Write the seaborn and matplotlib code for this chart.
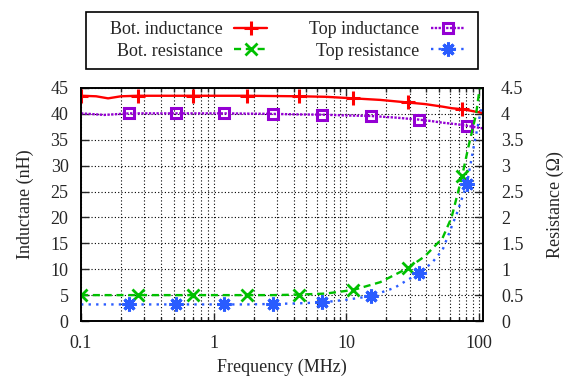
import matplotlib
matplotlib.use("Agg")
import matplotlib.pyplot as plt
import seaborn as sns
from matplotlib.patches import Rectangle
from matplotlib.ticker import LogLocator, FuncFormatter, NullFormatter

# ---- data ----
bot_freq = [0.1, 0.13, 0.16, 0.2, 0.27, 0.43, 0.7, 1.1, 1.77, 2.8, 4.4, 7, 11.3,
            18, 29, 39, 53, 62, 74.5, 83, 95, 101, 107]
bot_inductance = [43.5, 43.4, 43.0, 43.4, 43.5, 43.5, 43.5, 43.5, 43.5, 43.45, 43.4,
                  43.3, 43.0, 42.7, 42.2, 41.9, 41.4, 41.1, 40.9, 40.7, 40.4, 40.3, 40.1]
bot_resistance = [0.5, 0.5, 0.5, 0.5, 0.5, 0.5, 0.5, 0.5, 0.5, 0.5, 0.51, 0.53, 0.6,
                  0.75, 1.02, 1.25, 1.6, 2.0, 2.8, 3.36, 4.0, 4.5, 5.0]
bot_marker_freq = [0.1, 0.27, 0.7, 1.77, 4.4, 11.3, 29, 74.5]

top_freq = [0.1, 0.15, 0.23, 0.35, 0.52, 0.8, 1.19, 1.8, 2.8, 4.3, 6.6, 10, 15.2,
            23, 35, 44, 53, 68, 81, 91, 101, 107]
top_inductance = [40.1, 39.8, 40.1, 40.1, 40.1, 40.1, 40.1, 40.05, 40.0, 39.9, 39.85,
                  39.7, 39.6, 39.3, 38.9, 38.6, 38.3, 38.0, 37.7, 37.5, 37.3, 37.2]
top_resistance = [0.32, 0.32, 0.32, 0.32, 0.32, 0.32, 0.32, 0.32, 0.33, 0.34, 0.36,
                  0.41, 0.48, 0.64, 0.92, 1.12, 1.37, 2.08, 2.65, 3.36, 3.95, 4.2]
top_marker_freq = [0.23, 0.52, 1.19, 2.8, 6.6, 15.2, 35, 81]

labels = ["Bot. inductance", "Bot. resistance", "Top inductance", "Top resistance"]
x_ticks = [0.1, 1, 10, 100]
y_ticks = [0, 5, 10, 15, 20, 25, 30, 35, 40, 45]
y2_ticks = [0, 0.5, 1, 1.5, 2, 2.5, 3, 3.5, 4, 4.5]

bot_idx = [bot_freq.index(f) for f in bot_marker_freq]
top_idx = [top_freq.index(f) for f in top_marker_freq]

# ---- style ----
sns.set_theme(style="ticks")
plt.rcParams["font.family"] = ["Liberation Serif", "DejaVu Serif"]
plt.rcParams["axes.linewidth"] = 1.2

FS = 13
LW = 1.7
W, H = 567, 378
fig = plt.figure(figsize=(W/100, H/100), dpi=100)
ax = fig.add_axes([81/W, 1-321/H, (483-81)/W, (321-88)/H])
ax2 = ax.twinx()

red, green, purple, blue = "#ff0000", "#00c000", "#9400d3", "#2a5cff"

sns.lineplot(x=bot_freq, y=bot_inductance, ax=ax, color=red, lw=LW, sort=False,
             estimator=None, marker="+", markersize=10, mew=2.2, mec=red,
             markevery=bot_idx, label=labels[0], legend=False)
sns.lineplot(x=top_freq, y=top_inductance, ax=ax, color=purple, lw=LW, sort=False,
             estimator=None, marker="s", markersize=6.5, mew=2.2, mfc="none", mec=purple,
             markevery=top_idx, label=labels[2], legend=False)
l1 = ax.lines[0]
l3 = ax.lines[1]
l3.set_dashes((1, 0.6))

sns.lineplot(x=bot_freq, y=bot_resistance, ax=ax2, color=green, lw=LW, sort=False,
             estimator=None, marker="x", markersize=8, mew=2, mec=green,
             markevery=bot_idx, label=labels[1], legend=False)
sns.lineplot(x=top_freq, y=top_resistance, ax=ax2, color=blue, lw=LW, sort=False,
             estimator=None, marker=(8, 2, 0), markersize=10, mew=2.2, mec=blue,
             markevery=top_idx, label=labels[3], legend=False)
l2 = ax2.lines[0]
l4 = ax2.lines[1]
l2.set_dashes((3, 2))
l4.set_dashes((1, 2.2))

ax.set_xscale("log")
ax.set_xlim(0.1, 107)
ax.set_ylim(0, 45)
ax2.set_ylim(0, 4.5)

fmt = FuncFormatter(lambda v, p: "%g" % v)
ax.xaxis.set_minor_locator(LogLocator(base=10, subs=range(2, 10), numticks=20))
ax.xaxis.set_minor_formatter(NullFormatter())
ax.set_xticks(x_ticks)
ax.xaxis.set_major_formatter(fmt)
ax.set_yticks(y_ticks)
ax2.set_yticks(y2_ticks)
ax2.yaxis.set_major_formatter(fmt)

ax.grid(True, axis="x", which="both", color="black", lw=0.8, linestyle=(0, (1, 2)))
ax.grid(True, axis="y", which="major", color="black", lw=0.8, linestyle=(0, (1, 2)))

ax.tick_params(axis="x", which="both", direction="in", top=True, labelsize=FS, pad=10)
ax.tick_params(axis="x", which="major", length=6, width=1)
ax.tick_params(axis="x", which="minor", length=3, width=1)
ax.tick_params(axis="y", which="major", direction="in", length=6, width=1,
               right=False, labelsize=FS, pad=9)
ax2.tick_params(axis="y", which="major", direction="in", length=6, width=1,
                labelsize=FS, pad=13)
for a in (ax, ax2):
    for s in a.spines.values():
        s.set_color("black")
        s.set_linewidth(1.2)

ax.set_xlabel("Frequency (MHz)", fontsize=FS, labelpad=5)
ax.set_ylabel("Inductane (nH)", fontsize=FS, labelpad=12)
ax2.set_ylabel("Resistance (Ω)", fontsize=FS, labelpad=17)

handles = [l1, l2, l3, l4]
leg = fig.legend(handles, labels, ncol=2, loc="upper left",
                 bbox_to_anchor=(110/W, 1-21/H), markerfirst=False,
                 frameon=False, fontsize=FS, handlelength=1.8, handletextpad=0.65,
                 columnspacing=2.35, borderpad=0, labelspacing=0.25,
                 borderaxespad=0)
fig.patches.append(Rectangle((86/W, 1-69/H), 392/W, 57/H, transform=fig.transFigure,
                             fill=False, ec="black", lw=1.2, figure=fig))

fig.savefig("out.png", dpi=100)
